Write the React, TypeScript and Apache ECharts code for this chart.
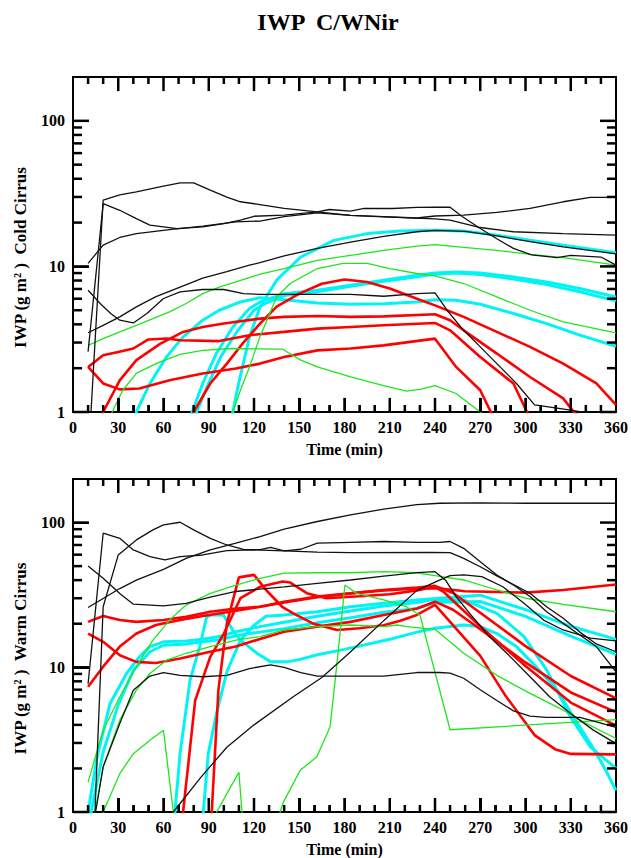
import React, { useEffect, useRef } from 'react';
import * as echarts from 'echarts';

// ---------- axis values ----------
const timeMin = 0;
const timeMax = 360;
const timeStep = 30;
const iwpMin = 1;
const iwpMax = 200;
const majorTickValues = [1, 10, 100];
const minorTickValues = [2, 3, 4, 5, 6, 7, 8, 9, 20, 30, 40, 50, 60, 70, 80, 90];
const timeMajorTicks = [30, 60, 90, 120, 150, 180, 210, 240, 270, 300, 330];
const timeMinorTicks = [10, 20, 40, 50, 70, 80, 100, 110, 130, 140, 160, 170, 190, 200, 220, 230, 250, 260, 280, 290, 310, 320, 340, 350];

// ---------- Cold Cirrus (top) : [time (min), IWP] ----------
const coldBlack1 = [[10,0.45],[20,28.5],[31,31],[42,32.5],[60,35.6],[71,37.5],[80,37.5],[91,33.4],[102,29.9],[111,27.8],[124,26.6],[140,25],[162,23.7],[184,22.4],[206,22],[228,21.5],[240,22.2],[259,22.5],[281,23.5],[303,25],[325,27.8],[343,29.8],[360,29.8]];
const coldBlack2 = [[10,2.6],[20,27],[31,24.3],[42,21.3],[51,19.2],[69,18.2],[86,18.7],[100,19.7],[111,20.8],[120,22.1],[140,22.5],[162,23.7],[170,24.6],[184,24],[193,25],[212,25],[228,25.4],[240,25.5],[250,25.5],[258,22],[270,18.2],[281,15.5],[292,13.3],[304,12],[321,11.5],[330,11.9],[350,11.6],[360,10.2]];
const coldBlack3 = [[10,10.5],[20,14],[31,15.8],[42,16.8],[64,17.9],[86,18.9],[108,20.2],[124,20.5],[140,22],[162,23.3],[184,22.4],[206,21.9],[240,21.2],[250,20.8],[270,18.5],[292,17.3],[325,16.8],[360,16.4]];
const coldBlack4 = [[10,3.5],[20,3.94],[31,4.5],[42,5.27],[55,6.2],[71,7.2],[86,8.3],[102,9.2],[117,10.2],[124,10.6],[140,11.8],[162,13.3],[184,14.7],[206,16.1],[228,17.3],[240,17.7],[260,17.4],[281,16.2],[303,14.8],[325,13.6],[360,12.2]];
const coldBlack5 = [[10,6.86],[18,5.56],[25,4.75],[31,4.27],[40,4.09],[49,4.75],[60,6.02],[71,6.68],[86,6.94],[100,6.94],[113,6.5],[124,6.43],[162,6.43],[184,6.43],[206,6.24],[228,6.5],[240,6.57],[248,5.0],[259,3.64],[270,2.8],[281,2.15],[294,1.57],[306,1.12],[330,1.03],[345,0.97],[360,0.95]];

const coldCyan1 = [[104,0.8],[110,1.6],[117,3.28],[124,5.27],[135,8.04],[151,11.6],[173,15.1],[195,16.8],[217,17.5],[240,17.7],[259,17.5],[281,16.4],[303,15.1],[325,14],[360,12.4]];
const coldCyan2 = [[40,0.83],[42,1],[51,1.57],[62,2.39],[73,3.28],[86,4.27],[97,5.0],[111,5.7],[124,6.1],[140,5.9],[162,5.61],[184,5.5],[206,5.55],[228,5.7],[240,5.9],[254,5.86],[270,5.5],[292,4.75],[314,4.05],[336,3.37],[360,2.83]];
const coldCyan3 = [[77,0.85],[79,1],[86,1.57],[95,2.52],[106,3.84],[117,5.14],[124,5.7],[140,6.5],[162,6.86],[184,7.43],[206,8.04],[228,8.7],[240,9.0],[254,9.17],[270,9.0],[292,8.47],[314,7.82],[336,7.05],[360,6.17]];
const coldCyan4 = [[80,0.85],[82,1],[89,1.5],[98,2.4],[109,3.6],[120,5.0],[128,5.6],[140,6.3],[162,6.7],[184,7.3],[206,7.9],[228,8.5],[240,8.85],[254,9.0],[270,8.8],[292,8.2],[314,7.5],[336,6.7],[360,5.8]];

const coldRed1 = [[10,2.04],[20,1.57],[31,1.43],[44,1.45],[64,1.65],[86,1.84],[108,1.99],[124,2.15],[140,2.39],[162,2.65],[184,2.73],[206,2.87],[240,3.19],[254,2.04],[270,1.41],[277,1.0],[285,0.75]];
const coldRed2 = [[10,2.04],[20,2.45],[30,2.58],[40,2.73],[50,3.15],[62,3.2],[71,3.11],[97,3.07],[117,3.37],[140,3.55],[162,3.74],[184,3.84],[206,3.94],[240,4.09],[250,3.64],[270,2.39],[292,1.57],[301,1.0],[310,0.7]];
const coldRed3 = [[18,0.85],[20,1],[31,1.65],[42,2.27],[58,2.95],[73,3.55],[86,3.84],[100,4.05],[124,4.38],[140,4.5],[162,4.57],[184,4.5],[206,4.54],[240,4.69],[250,4.27],[259,3.64],[281,2.52],[303,1.74],[325,1.24],[332,1.0],[345,0.8]];
const coldRed4 = [[78,0.85],[80,1],[91,1.57],[102,2.15],[113,3.0],[124,4.05],[135,5.3],[150,6.5],[165,7.6],[180,8.13],[195,7.82],[210,7.05],[228,6.0],[240,5.4],[259,4.5],[281,3.55],[303,2.8],[325,2.15],[347,1.57],[360,1.12]];

const coldGreen1 = [[10,2.87],[20,3.19],[31,3.55],[42,3.94],[53,4.38],[64,4.87],[75,5.56],[86,6.5],[97,7.2],[108,7.82],[124,8.84],[140,9.67],[162,11],[184,11.9],[206,12.9],[228,13.8],[240,14.1],[259,13.5],[281,12.9],[303,12.1],[325,11.5],[360,10.2]];
const coldGreen2 = [[104,0.8],[106,1],[111,1.41],[117,2.04],[124,3.3],[135,6.17],[144,7.63],[162,9.67],[179,10.5],[195,10.5],[210,9.67],[228,8.94],[240,8.6],[259,7.63],[281,6.17],[303,5.0],[325,4.16],[360,3.49]];
const coldGreen3 = [[24,0.85],[26,1],[33,1.41],[42,1.84],[55,2.15],[71,2.49],[86,2.65],[104,2.73],[139,2.7],[151,2.27],[162,2.04],[184,1.74],[206,1.52],[221,1.39],[230,1.43],[240,1.52],[254,1.34],[270,1.0],[285,0.75]];

// ---------- Warm Cirrus (bottom) : [time (min), IWP] ----------
const warmBlack1 = [[10,25.9],[20,29.9],[31,35],[42,40],[60,47.5],[75,56.6],[91,64.7],[108,72],[124,80],[140,90],[162,101.7],[184,113],[206,124],[228,133],[243,136],[270,137],[300,136],[330,136],[360,136]];
const warmBlack2 = [[10,0.065],[20,26.2],[30,59.8],[42,75.9],[53,89],[60,96.4],[71,100.5],[80,89],[91,77.8],[102,70],[113,65.3],[124,65],[131,67.5],[140,63.7],[151,65.4],[162,72],[184,73],[206,74],[228,73],[243,73],[250,74],[259,66.4],[270,53.7],[281,43.4],[292,37],[303,30.8],[314,24.2],[325,20.1],[336,16.7],[347,13.9],[360,9.3]];
const warmBlack3 = [[10,7.7],[20,84.4],[31,77.9],[40,64.7],[51,58.2],[61,55.2],[71,58.2],[86,59.7],[102,64],[120,64.7],[140,63.7],[162,62.4],[184,62],[237,62.3],[250,62],[259,56.6],[270,49.5],[281,42.8],[303,32.5],[314,26.2],[325,21.8],[336,17.5],[347,14.5],[360,12.8]];
const warmBlack4 = [[10,50.1],[20,41.2],[31,32.4],[40,27.3],[60,26.6],[75,27.6],[91,30.5],[108,33.4],[124,34.7],[140,36],[162,38],[184,40.1],[206,42.7],[228,45.1],[240,45.8],[247,40],[254,30.8],[263,23.6],[276,16.3],[290,11.8],[303,8.6],[316,6.25],[330,4.8],[345,3.68],[360,2.97]];
const warmBlack5 = [[13,0.6],[15,1],[20,2.05],[31,4.09],[40,6.95],[51,8.7],[60,9.2],[71,8.8],[86,8.6],[102,8.8],[117,9.8],[131,10.4],[140,10],[151,9.2],[162,8.7],[206,8.7],[228,9.2],[243,9.2],[250,9.1],[259,8.4],[270,7.0],[281,5.9],[292,5.0],[303,4.6],[314,4.5],[336,4.5],[347,4.2],[360,3.85]];
const warmBlack6 = [[64,0.9],[66.5,1],[85,1.75],[102,2.8],[120,4.0],[146,6.25],[165,8.5],[183,12.5],[206,21],[228,34],[243,40],[250,43],[259,43.5],[271,42.3],[285,36],[299,27.7],[312,21.2],[325,18.1],[343,15.9],[360,15.2]];

const warmCyan1 = [[10,1],[16,2.4],[24.5,5.6],[35.6,9.1],[44,11.8],[51,13.9],[60,15],[75,15.2],[86,15.6],[97,16.3],[108,17.6],[124,19.1],[140,20.5],[162,22.5],[184,24.5],[206,26.5],[228,28],[237,29.2],[259,29.2],[281,23.6],[299,16.3],[314,9.6],[330,4.5],[343,2.82],[360,2.0]];
const warmCyan2 = [[10,0.8],[12,1],[20,2.6],[30,5.5],[40,9.5],[51,12.8],[60,14.2],[75,14.5],[86,15],[97,15.5],[108,16.5],[117,17.1],[140,18.5],[162,20.3],[184,22],[206,24],[228,25.5],[240,28],[270,28.5],[300,22.5],[330,16.4],[360,12.3]];
const warmCyan3 = [[66,0.8],[67.6,1],[71,2.54],[77.6,8.15],[84,13.9],[88.6,22.3],[92,23],[99.7,23],[106,18],[111,15.4],[122,12.5],[131,10.9],[142,10.9],[150,11.3],[162,12.2],[180,13.3],[210,15.6],[228,17.5],[240,18.6],[259,19.6],[270,19.1],[281,17.1],[294,13.9],[307,10.1],[321,6.95],[332,4.5],[343,2.97],[352,2.05],[360,1.41]];
const warmCyan4 = [[84,0.7],[86.4,1],[89.7,2.54],[95.2,4.8],[102,9.3],[111,15.4],[120,19.5],[128,22.5],[140,23],[162,24.2],[184,26.2],[206,27.7],[228,29.2],[243,30],[270,31.5],[300,25],[330,19.2],[360,15.6]];

const warmRed1 = [[10,20.6],[20,22.6],[31,21.2],[42,20.6],[60,21.2],[75,22.3],[91,24.2],[108,25.5],[124,26.2],[140,28.4],[162,30.8],[184,32.4],[206,34],[228,35],[243,35],[260,33.5],[300,32.8],[325,34.2],[360,37.3]];
const warmRed2 = [[10,7.33],[20,10.1],[31,13.9],[42,17.1],[55,19.6],[71,21.2],[86,22.6],[104,24.2],[124,26.2],[140,28],[162,30.5],[184,32.4],[206,34.2],[228,35.5],[240,36.5],[252,32.6],[270,23.8],[300,14],[330,8.7],[360,6.1]];
const warmRed3 = [[71,0.7],[73,1],[81,5.9],[91,11.8],[100,17.1],[111,30],[124,36],[139,39.1],[144,38.5],[155,32.5],[168,30],[190,31],[210,32],[228,34],[240,36],[246,33],[270,19.2],[300,10.2],[330,5.7],[360,3.95]];
const warmRed4 = [[90,0.6],[92,1],[96.4,6.95],[102,20.1],[110,41.8],[120,43.5],[128,34.2],[139,26],[146,23.6],[159,20.1],[175,18.1],[190,18.6],[206,19.5],[217,21],[228,23],[240,27],[270,12],[287,6.3],[306,3.4],[320,2.7],[330,2.52],[360,2.5]];
const warmRed5 = [[10,17.1],[20,15],[31,12.1],[42,10.9],[55,10.7],[71,11.5],[91,12.8],[108,13.9],[124,15.7],[140,17.6],[162,19.1],[184,20.6],[206,23],[228,25.5],[240,28.4],[252,25],[270,18.3],[300,10.8],[330,6.7],[360,4.9]];

const warmGreen1 = [[10,1.61],[20,3.67],[31,6.25],[42,10.1],[53,15.4],[64,21.2],[75,26.9],[91,32.4],[108,37],[124,41.2],[140,44.7],[162,45],[184,45],[206,45.8],[228,45],[240,43],[259,40.1],[281,34.2],[300,30],[325,27.2],[360,24.2]];
const warmGreen2 = [[13,0.7],[14.6,1],[20,2.05],[31,4.31],[42,6.95],[51,9.06],[62,11.2],[75,12.5],[91,13.9],[108,15.4],[124,16.3],[140,18.1],[162,19.1],[184,19.6],[206,19.1],[215,19.6],[221,19.1],[240,18.3],[259,12.5],[281,8.8],[303,6.6],[325,5.06],[336,4.31],[360,3.22]];
const warmGreen3 = [[18,0.7],[20,1],[31,1.84],[40,2.53],[51,3.13],[60,3.67],[66.5,1],[68,0.6]];
const warmGreen4 = [[93,0.75],[95.3,1],[102,1.34],[110,1.88],[112,1],[113,0.6]];
const warmGreen5 = [[135,0.7],[137.3,1],[139.5,1.17],[150.6,1.94],[161.6,2.4],[170.4,3.87],[175,10.6],[180.3,37],[188,32.4],[206,29.2],[221,26.2],[230,23],[250,3.7],[360,4.35]];

const FONT = "'Liberation Serif', 'Times New Roman', serif";

const panels = [
  {
    title: 'Cold Cirrus',
    black: [coldBlack1, coldBlack2, coldBlack3, coldBlack4, coldBlack5],
    green: [coldGreen1, coldGreen2, coldGreen3],
    cyan: [coldCyan1, coldCyan2, coldCyan3, coldCyan4],
    red: [coldRed1, coldRed2, coldRed3, coldRed4],
  },
  {
    title: 'Warm Cirrus',
    black: [warmBlack1, warmBlack2, warmBlack3, warmBlack4, warmBlack5, warmBlack6],
    green: [warmGreen1, warmGreen2, warmGreen3, warmGreen4, warmGreen5],
    cyan: [warmCyan1, warmCyan2, warmCyan3, warmCyan4],
    red: [warmRed1, warmRed2, warmRed3, warmRed4, warmRed5],
  },
];

const gridBoxes = [
  { left: 73, top: 77, width: 543, height: 335 },
  { left: 73, top: 479, width: 543, height: 333 },
];

// tick lengths (style): along time in minutes, along IWP as a multiplicative factor (log axis)
const yMajorLenMin = 10.6;
const yMinorLenMin = 6;
const xMajorLenFactor = 1.25;
const xMinorLenFactor = 1.117;

function buildOption() {
  const grid: any[] = [];
  const xAxis: any[] = [];
  const yAxis: any[] = [];
  const series: any[] = [];
  const graphic: any[] = [];

  panels.forEach((p, i) => {
    const g = gridBoxes[i];
    grid.push({ ...g, containLabel: false, show: true, borderColor: '#000', borderWidth: 2, backgroundColor: 'transparent' });
    xAxis.push({
      gridIndex: i,
      type: 'value',
      position: 'bottom',
      min: timeMin,
      max: timeMax,
      interval: timeStep,
      axisLine: { show: true, onZero: false, lineStyle: { color: '#000', width: 2 } },
      axisTick: { show: true, inside: true, length: 14, lineStyle: { color: '#000', width: 2 } },
      minorTick: { show: true, splitNumber: 3, length: 7, lineStyle: { color: '#000', width: 2 } },
      splitLine: { show: false },
      axisLabel: { show: true, color: '#000', fontFamily: FONT, fontWeight: 'bold', fontSize: 16, margin: 7 },
    });
    yAxis.push({
      gridIndex: i,
      type: 'log',
      logBase: 10,
      min: iwpMin,
      max: iwpMax,
      position: 'left',
      axisLine: { show: true, onZero: false, lineStyle: { color: '#000', width: 2 } },
      axisTick: { show: true, inside: true, length: 16, lineStyle: { color: '#000', width: 2 } },
      splitLine: { show: false },
      axisLabel: {
        show: true,
        color: '#000',
        fontFamily: FONT,
        fontWeight: 'bold',
        fontSize: 16,
        margin: 8,
        showMaxLabel: false,
        formatter: (v: number) => {
          const r = Math.round(v);
          return r === 1 || r === 10 || r === 100 ? String(r) : '';
        },
      },
    });

    const addLines = (arr: number[][][], color: string, width: number, z: number) => {
      arr.forEach((d) => {
        series.push({
          type: 'line',
          xAxisIndex: i,
          yAxisIndex: i,
          data: d,
          showSymbol: false,
          symbol: 'none',
          clip: true,
          silent: true,
          z,
          lineStyle: { color, width },
        });
      });
    };
    addLines(p.cyan, '#00f4f4', 3, 2);
    addLines(p.red, '#ff0000', 2.6, 3);
    addLines(p.green, '#1ee61e', 1.3, 4);
    addLines(p.black, '#111111', 1.3, 5);

    // frame ticks on all four sides: each one a tiny two-point line on the axes' scales
    const tickPairs: number[][][] = [];
    majorTickValues.forEach((v) => {
      tickPairs.push([[timeMin, v], [timeMin + yMajorLenMin, v]]);
      tickPairs.push([[timeMax - yMajorLenMin, v], [timeMax, v]]);
    });
    minorTickValues.forEach((v) => {
      tickPairs.push([[timeMin, v], [timeMin + yMinorLenMin, v]]);
      tickPairs.push([[timeMax - yMinorLenMin, v], [timeMax, v]]);
    });
    timeMajorTicks.forEach((t) => {
      tickPairs.push([[t, iwpMin], [t, iwpMin * xMajorLenFactor]]);
      tickPairs.push([[t, iwpMax / xMajorLenFactor], [t, iwpMax]]);
    });
    timeMinorTicks.forEach((t) => {
      tickPairs.push([[t, iwpMin], [t, iwpMin * xMinorLenFactor]]);
      tickPairs.push([[t, iwpMax / xMinorLenFactor], [t, iwpMax]]);
    });
    tickPairs.forEach((pair) => {
      series.push({
        type: 'line',
        xAxisIndex: i,
        yAxisIndex: i,
        data: pair,
        showSymbol: false,
        symbol: 'none',
        clip: false,
        silent: true,
        z: 10,
        lineStyle: { color: '#000', width: 2.5 },
      });
    });

    graphic.push({
      type: 'text',
      x: 20,
      y: g.top + g.height / 2 + 13,
      rotation: Math.PI / 2,
      style: {
        text: 'IWP (g m² )  ' + p.title,
        fill: '#000',
        font: `bold 17px ${FONT}`,
        textAlign: 'center',
        textVerticalAlign: 'middle',
      },
    });
    graphic.push({
      type: 'text',
      x: g.left + g.width / 2,
      y: g.top + g.height + 37,
      style: {
        text: 'Time (min)',
        fill: '#000',
        font: `bold 16px ${FONT}`,
        textAlign: 'center',
        textVerticalAlign: 'middle',
      },
    });
  });

  graphic.push({
    type: 'text',
    x: 328,
    y: 22,
    style: {
      text: 'IWP  C/WNir',
      fill: '#000',
      font: `bold 24px ${FONT}`,
      textAlign: 'center',
      textVerticalAlign: 'middle',
    },
  });

  return {
    animation: false,
    backgroundColor: '#fff',
    grid,
    xAxis,
    yAxis,
    series,
    graphic,
  };
}

export default function App() {
  const ref = useRef<HTMLDivElement>(null);
  useEffect(() => {
    if (!ref.current) return;
    const chart = echarts.init(ref.current, undefined, { renderer: 'svg' });
    chart.setOption(buildOption() as any);
    return () => chart.dispose();
  }, []);
  return (
    <div
      ref={ref}
      style={{ position: 'absolute', left: 0, top: 0, width: 631, height: 858, background: '#fff' }}
    />
  );
}
